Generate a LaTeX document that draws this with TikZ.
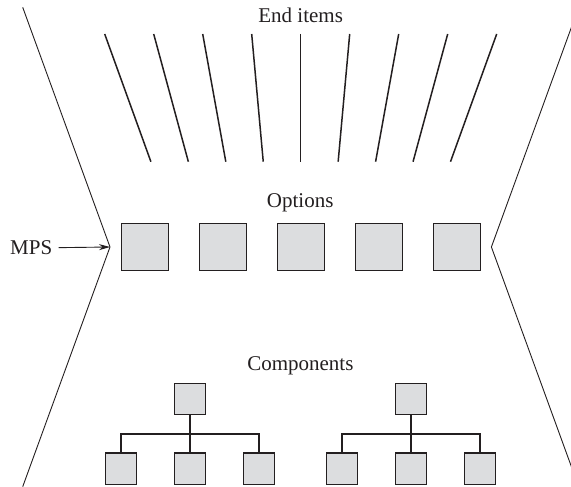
\documentclass[tikz,border=0pt]{standalone}
\usepackage{fontspec}
\setmainfont{Liberation Serif}
\newfontfamily\capfont{Liberation Serif}
\usetikzlibrary{arrows.meta}
\definecolor{boxgray}{RGB}{220,221,223}
\definecolor{ink}{RGB}{35,31,32}
\tikzset{
  lbl/.style={font=\capfont\fontsize{21}{25}\selectfont, text=ink, inner sep=0pt, anchor=base},
  optbox/.style={draw=ink, fill=boxgray, line width=1.1pt, minimum size=46.9pt, inner sep=0pt},
  compbox/.style={draw=ink, fill=boxgray, line width=1.1pt, minimum size=31.4pt, inner sep=0pt},
  bound/.style={draw=ink, line width=0.9pt},
  itemline/.style={draw=ink, line width=1.5pt},
  treeline/.style={draw=ink, line width=1.6pt},
}
\begin{document}
\begin{tikzpicture}[x=1pt,y=-1pt]
\useasboundingbox (0,0) rectangle (571,487);
\clip (0,0) rectangle (571,487);

% boundary
\coordinate (lt) at (22.7,7.3);
\coordinate (lv) at (110,247);
\coordinate (lb) at (22.7,486.7);
\coordinate (rt) at (578.7,7.3);
\coordinate (rv) at (491.4,247);
\coordinate (rb) at (578.7,486.7);
\draw[bound] (lt) -- (lv) -- (lb);
\draw[bound] (rt) -- (rv) -- (rb);

% labels
\node[lbl] (end) at (300.7,22.7) {End items};
\node[lbl] (opt) at (300.2,207.5) {Options};
\node[lbl] (comp) at (300.4,370.7) {Components};
\node[lbl, anchor=base west] (mps) at (10,254.5) {MPS};
\draw[line width=0.9pt, ink, -{Stealth[length=11pt,width=6pt]}] ([xshift=6.3pt]mps.east) -- (lv);

% end item lines
\foreach \k [count=\i] in {-4,...,4}{
  \coordinate (it\i) at ({300.7+49*\k},34);
  \coordinate (ib\i) at ({300.7+37.45*\k},161.7);
  \draw[itemline] (it\i) -- (ib\i);
}

% option boxes
\foreach \k [count=\i] in {-2,...,2}{
  \node[optbox] (o\i) at ({300.7+78*\k},247) {};
}

% component trees
\node[compbox] (ta) at (190.2,399) {};
\node[compbox] (a1) at (121.2,468.7) {};
\node[compbox] (a2) at (190.2,468.7) {};
\node[compbox] (a3) at (259.2,468.7) {};
\coordinate (busa) at (190.2,434);
\draw[treeline] (a1.north) -- (a1.north |- busa) -| (a3.north);
\draw[treeline] (ta.south) -- (a2.north);

\node[compbox] (tb) at (411.2,399) {};
\node[compbox] (b1) at (342.2,468.7) {};
\node[compbox] (b2) at (411.2,468.7) {};
\node[compbox] (b3) at (480.2,468.7) {};
\coordinate (busb) at (411.2,434);
\draw[treeline] (b1.north) -- (b1.north |- busb) -| (b3.north);
\draw[treeline] (tb.south) -- (b2.north);
\end{tikzpicture}
\end{document}
